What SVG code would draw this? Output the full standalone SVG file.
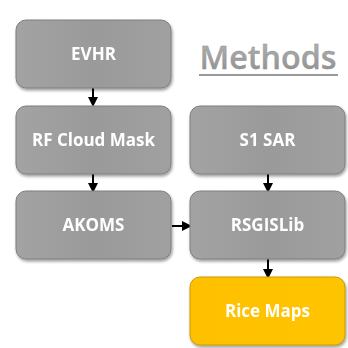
<svg xmlns="http://www.w3.org/2000/svg" width="348" height="348" viewBox="0 0 348 348">
<style>
.box{fill:url(#gray);stroke:#7f7f7f;stroke-width:1}
.rice{fill:url(#gold);stroke:#c99a00;stroke-width:1}
.lbl{font-family:"Open Sans","Liberation Sans",Arial,sans-serif;font-weight:bold;font-size:17px;fill:#ffffff;text-anchor:middle}
.conn{stroke:#000;stroke-width:2;fill:none;marker-end:url(#ah)}
</style>
<defs>
<linearGradient id="gray" x1="0" y1="0" x2="1" y2="0">
<stop offset="0" stop-color="#a3a3a3"/><stop offset="0.5" stop-color="#9a9a9a"/><stop offset="1" stop-color="#a0a0a0"/>
</linearGradient>
<linearGradient id="gold" x1="0" y1="0" x2="1" y2="0">
<stop offset="0" stop-color="#ffc000"/><stop offset="1" stop-color="#ffc400"/>
</linearGradient>
<linearGradient id="mt" x1="0" y1="0" x2="0" y2="1">
<stop offset="0" stop-color="#b8b8b8"/><stop offset="1" stop-color="#8a8a8a"/>
</linearGradient>
<filter id="sh" x="-10%" y="-10%" width="125%" height="130%">
<feGaussianBlur in="SourceAlpha" stdDeviation="1.5"/>
<feOffset dx="1" dy="2" result="o"/>
<feComponentTransfer><feFuncA type="linear" slope="0.4"/></feComponentTransfer>
<feMerge><feMergeNode/><feMergeNode in="SourceGraphic"/></feMerge>
</filter>
<marker id="ah" markerWidth="5" markerHeight="5" refX="4" refY="2.5" orient="auto" markerUnits="strokeWidth">
<path d="M0,0 L5,2.5 L0,5 Z" fill="#000"/>
</marker>
</defs>
<rect width="348" height="348" fill="#ffffff"/>
<g id="title">
<text x="268" y="69" font-family="'Open Sans','Liberation Sans',sans-serif" font-weight="600" font-size="33" fill="url(#mt)" stroke="#8f8f8f" stroke-width="0.3" text-anchor="middle" textLength="137" lengthAdjust="spacingAndGlyphs">Methods</text>
<line x1="199" y1="75" x2="338" y2="75" stroke="#999999" stroke-width="2"/>
</g>
<g id="connectors">
<line class="conn" x1="93" y1="88" x2="93" y2="105"/>
<line class="conn" x1="93" y1="174" x2="93" y2="191"/>
<line class="conn" x1="172" y1="226" x2="190" y2="226"/>
<line class="conn" x1="268" y1="174" x2="268" y2="191"/>
<line class="conn" x1="268" y1="259" x2="268" y2="277"/>
</g>
<g id="evhr" filter="url(#sh)">
<rect class="box" x="16" y="20" width="155" height="68" rx="10"/>
<text class="lbl" x="93.5" y="60">EVHR</text>
</g>
<g id="rfcloud" filter="url(#sh)">
<rect class="box" x="16" y="106" width="155" height="68" rx="10"/>
<text class="lbl" x="93.5" y="146">RF Cloud Mask</text>
</g>
<g id="akoms" filter="url(#sh)">
<rect class="box" x="16" y="191" width="155" height="68" rx="10"/>
<text class="lbl" x="93.5" y="231">AKOMS</text>
</g>
<g id="s1sar" filter="url(#sh)">
<rect class="box" x="190" y="106" width="155" height="68" rx="10"/>
<text class="lbl" x="267.5" y="146">S1 SAR</text>
</g>
<g id="rsgislib" filter="url(#sh)">
<rect class="box" x="190" y="191" width="155" height="68" rx="10"/>
<text class="lbl" x="267.5" y="231">RSGISLib</text>
</g>
<g id="ricemaps" filter="url(#sh)">
<rect class="rice" x="190" y="277" width="155" height="68" rx="10"/>
<text class="lbl" x="267.5" y="317">Rice Maps</text>
</g>
</svg>
